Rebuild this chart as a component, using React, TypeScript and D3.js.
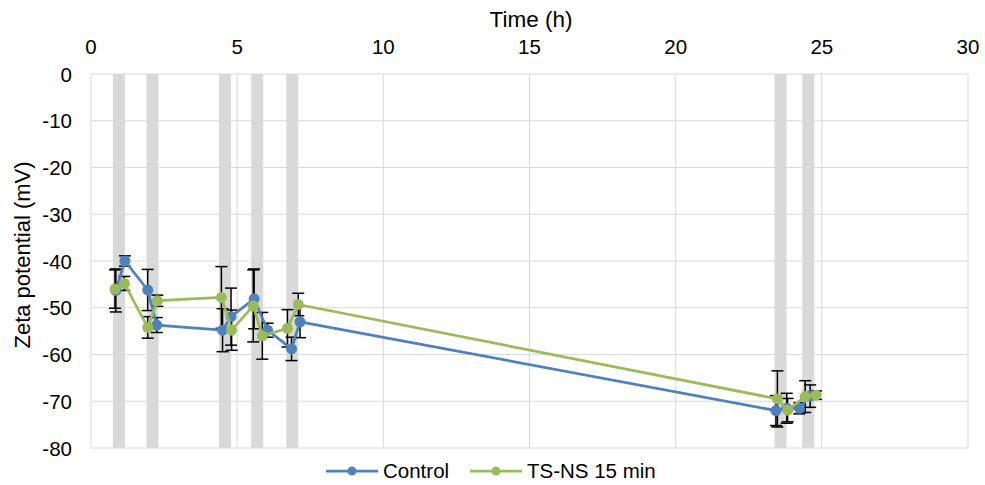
import React from "react";
import * as d3 from "d3";

const bandStarts = [0.75, 1.9, 4.38, 5.48, 6.68, 23.38, 24.33];
const bandEnds = [1.16, 2.31, 4.79, 5.89, 7.09, 23.79, 24.74];

const controlX = [0.85, 1.16, 1.94, 2.25, 4.5, 4.79, 5.58, 6.04, 6.86, 7.15, 23.43, 23.8, 24.23, 24.6];
const controlY = [-46.3, -40, -46.2, -53.7, -54.8, -51.9, -48.1, -54.8, -58.8, -53, -72, -71.5, -71.5, -68.9];
const controlErr = [4.6, 1.1, 4.4, 1.6, 4.6, 6.1, 6.4, 1.5, 2.5, 3.4, 3.2, 3.2, 1.2, 2.4];

const tsnsX = [0.82, 1.14, 1.94, 2.27, 4.46, 4.81, 5.55, 5.86, 6.72, 7.09, 23.48, 23.83, 24.43, 24.8];
const tsnsY = [-46, -44.8, -54.2, -48.5, -47.8, -54.8, -49.6, -56, -54.4, -49.3, -69.5, -71.9, -69, -68.7];
const tsnsErr = [4.1, 1.5, 2.3, 1.2, 6.6, 4.3, 7.7, 5, 4, 2.4, 6, 2.5, 3.4, 0.9];

const xTicks = [0, 5, 10, 15, 20, 25, 30];
const yTicks = [0, -10, -20, -30, -40, -50, -60, -70, -80];

const seriesNames = ["Control", "TS-NS 15 min"];
const colors = ["#4f81bd", "#9bbb59"];

export default function App() {
  const W = 985, H = 485;
  const left = 91, right = 968, top = 74, bottom = 448;
  const x = d3.scaleLinear().domain([0, 30]).range([left, right]);
  const y = d3.scaleLinear().domain([0, -80]).range([top, bottom]);
  const font = "'Liberation Sans', Arial, sans-serif";
  const series = [
    { xs: controlX, ys: controlY, es: controlErr },
    { xs: tsnsX, ys: tsnsY, es: tsnsErr },
  ];
  return (
    <svg width={W} height={H} style={{ position: "absolute", left: 0, top: 0, background: "#fff" }} fontFamily={font}>
      {xTicks.map((t) => (
        <line key={"gx" + t} x1={x(t)} x2={x(t)} y1={top} y2={bottom} stroke="#d9d9d9" strokeWidth={1} />
      ))}
      {yTicks.map((t) => (
        <line key={"gy" + t} x1={left} x2={right} y1={y(t)} y2={y(t)} stroke="#d9d9d9" strokeWidth={1} />
      ))}
      {bandStarts.map((s, i) => (
        <rect key={"b" + i} x={x(s)} y={top} width={x(bandEnds[i]) - x(s)} height={bottom - top} fill="#d9d9d9" />
      ))}
      {xTicks.map((t) => (
        <text key={"tx" + t} x={x(t)} y={54} textAnchor="middle" fontSize={20.5} fill="#000">{t}</text>
      ))}
      {yTicks.map((t) => (
        <text key={"ty" + t} x={72} y={y(t) + 7.5} textAnchor="end" fontSize={20.5} fill="#000">{t}</text>
      ))}
      <text x={531} y={27} textAnchor="middle" fontSize={22.5} fill="#000">Time (h)</text>
      <text transform={`translate(30,255) rotate(-90)`} textAnchor="middle" fontSize={22} fill="#000">Zeta potential (mV)</text>
      {series.map((s, si) => (
        <g key={"e" + si}>
          {s.xs.map((xv, i) => (
            <g key={i} stroke="#000" strokeWidth={1.5}>
              <line x1={x(xv)} x2={x(xv)} y1={y(s.ys[i] + s.es[i])} y2={y(s.ys[i] - s.es[i])} />
              <line x1={x(xv) - 6} x2={x(xv) + 6} y1={y(s.ys[i] + s.es[i])} y2={y(s.ys[i] + s.es[i])} />
              <line x1={x(xv) - 6} x2={x(xv) + 6} y1={y(s.ys[i] - s.es[i])} y2={y(s.ys[i] - s.es[i])} />
            </g>
          ))}
        </g>
      ))}
      {series.map((s, si) => {
        const pts = s.xs.map((xv, i) => [x(xv), y(s.ys[i])] as [number, number]);
        const path = d3.line()(pts) || "";
        return (
          <g key={"s" + si}>
            <path d={path} fill="none" stroke={colors[si]} strokeWidth={2.75} strokeLinejoin="round" />
            {pts.map((p, i) => (
              <circle key={i} cx={p[0]} cy={p[1]} r={5.5} fill={colors[si]} />
            ))}
          </g>
        );
      })}
      {seriesNames.map((n, i) => {
        const lx = i === 0 ? 326 : 470;
        return (
          <g key={"l" + i}>
            <line x1={lx} x2={lx + 52} y1={471} y2={471} stroke={colors[i]} strokeWidth={2.75} />
            <circle cx={lx + 26} cy={471} r={4.5} fill={colors[i]} />
            <text x={lx + 57} y={478} fontSize={20.5} fill="#000">{n}</text>
          </g>
        );
      })}
    </svg>
  );
}
